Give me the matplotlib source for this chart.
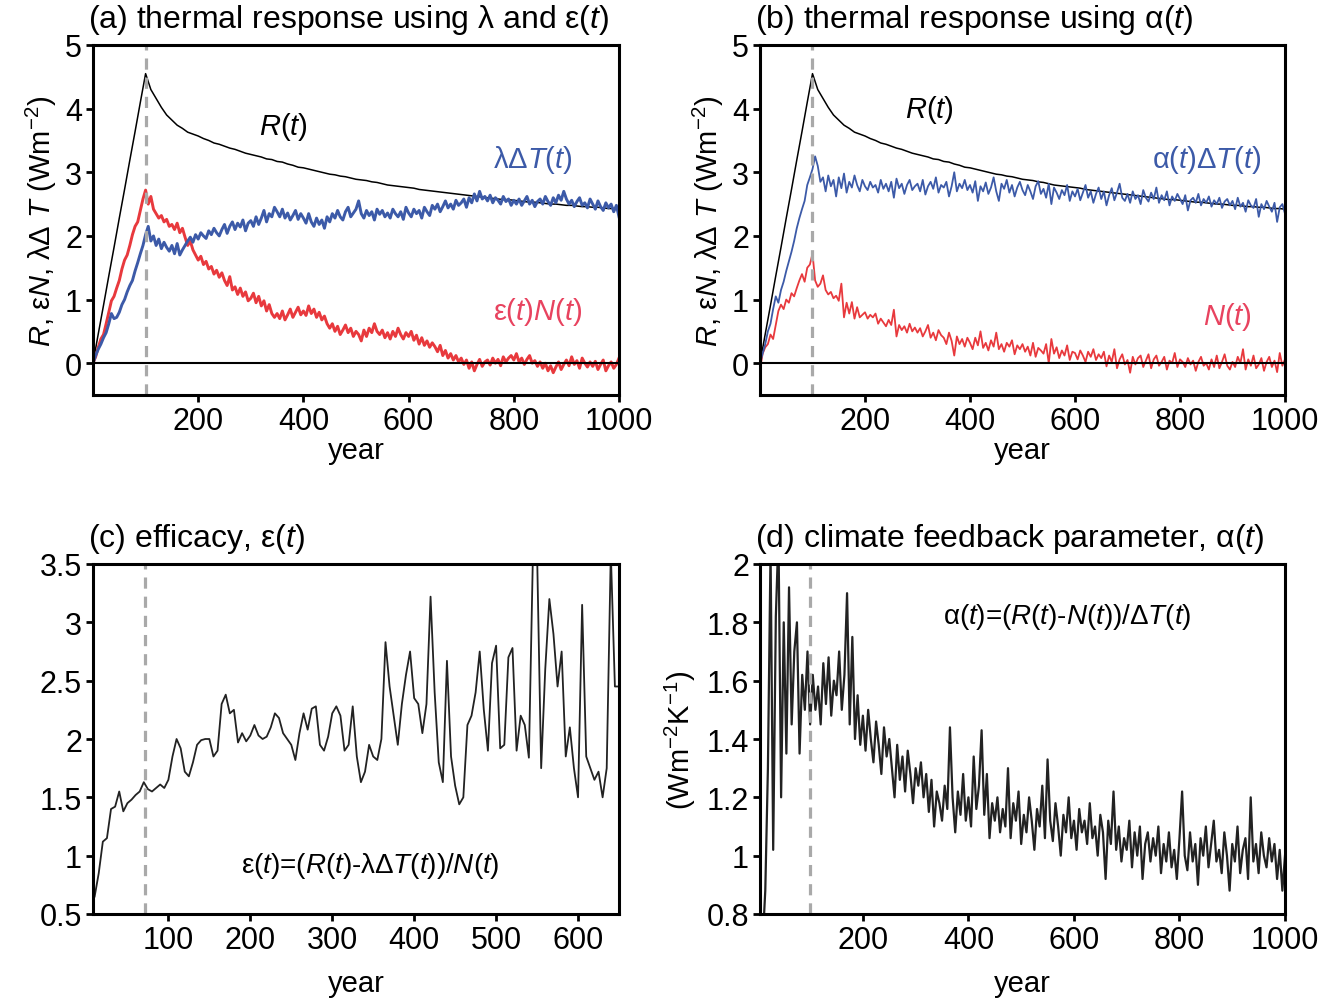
import numpy as np
import matplotlib
matplotlib.use("Agg")
import matplotlib.pyplot as plt
from matplotlib import font_manager

# ---- data ----
years5 = np.arange(0, 1001, 5)
years10 = np.arange(0, 1001, 10)

# R(t), same forcing in (a) and (b), every 10 years
forcing = [
    0.00, 0.46, 0.91, 1.37, 1.82, 2.28, 2.73, 3.19, 3.64, 4.10,
    4.55, 4.30, 4.16, 4.02, 3.90, 3.82, 3.74, 3.69, 3.63, 3.60,
    3.57, 3.53, 3.50, 3.46, 3.44, 3.41, 3.38, 3.36, 3.33, 3.30,
    3.28, 3.26, 3.24, 3.21, 3.20, 3.17, 3.16, 3.13, 3.11, 3.08,
    3.07, 3.05, 3.03, 3.01, 2.99, 2.97, 2.96, 2.94, 2.93, 2.91,
    2.89, 2.88, 2.87, 2.85, 2.84, 2.82, 2.80, 2.79, 2.78, 2.77,
    2.76, 2.75, 2.73, 2.72, 2.71, 2.70, 2.69, 2.68, 2.67, 2.66,
    2.65, 2.64, 2.63, 2.62, 2.61, 2.60, 2.59, 2.58, 2.57, 2.57,
    2.56, 2.55, 2.54, 2.53, 2.53, 2.52, 2.51, 2.50, 2.50, 2.49,
    2.48, 2.48, 2.47, 2.46, 2.46, 2.45, 2.45, 2.44, 2.43, 2.43,
    2.42,
]

# (a) lambda*dT(t), every 5 years
lam_dT = [
    0.00, 0.12, 0.22, 0.30, 0.40, 0.48, 0.62, 0.78, 0.70, 0.72,
    0.80, 0.92, 1.00, 1.12, 1.22, 1.30, 1.45, 1.58, 1.72, 1.85,
    2.02, 2.15, 1.92, 2.00, 1.85, 1.95, 1.80, 1.90, 1.82, 1.76,
    1.85, 1.72, 1.88, 1.70, 1.78, 1.85, 1.92, 1.98, 1.90, 2.02,
    1.95, 2.05, 2.00, 1.96, 2.08, 2.02, 2.12, 2.05, 2.00, 2.10,
    2.18, 2.04, 2.15, 2.22, 2.10, 2.20, 2.14, 2.25, 2.08, 2.20,
    2.24, 2.15, 2.30, 2.18, 2.28, 2.40, 2.22, 2.35, 2.30, 2.45,
    2.38, 2.30, 2.42, 2.28, 2.36, 2.25, 2.32, 2.40, 2.26, 2.35,
    2.28, 2.20, 2.35, 2.22, 2.15, 2.28, 2.18, 2.25, 2.12, 2.30,
    2.22, 2.35, 2.28, 2.40, 2.30, 2.25, 2.38, 2.45, 2.30, 2.36,
    2.42, 2.55, 2.35, 2.28, 2.40, 2.32, 2.38, 2.25, 2.42, 2.34,
    2.40, 2.30, 2.36, 2.28, 2.42, 2.35, 2.30, 2.38, 2.26, 2.45,
    2.36, 2.30, 2.42, 2.35, 2.40, 2.28, 2.45, 2.38, 2.32, 2.48,
    2.42, 2.50, 2.38, 2.46, 2.55, 2.44, 2.50, 2.42, 2.56, 2.48,
    2.52, 2.58, 2.45, 2.60, 2.52, 2.66, 2.55, 2.70, 2.58, 2.62,
    2.55, 2.64, 2.52, 2.60, 2.56, 2.50, 2.62, 2.54, 2.58, 2.48,
    2.56, 2.50, 2.58, 2.48, 2.55, 2.62, 2.50, 2.56, 2.46, 2.54,
    2.58, 2.50, 2.62, 2.54, 2.48, 2.60, 2.52, 2.64, 2.56, 2.70,
    2.58, 2.50, 2.56, 2.46, 2.54, 2.60, 2.48, 2.52, 2.44, 2.58,
    2.50, 2.42, 2.55, 2.46, 2.40, 2.52, 2.44, 2.50, 2.38, 2.48,
    2.30,
]

# (a) eps(t)*N(t), every 5 years
eps_N = [
    0.00, 0.10, 0.25, 0.38, 0.45, 0.62, 0.80, 0.98, 1.05, 1.18,
    1.30, 1.48, 1.62, 1.70, 1.85, 2.02, 2.15, 2.22, 2.40, 2.58,
    2.72, 2.50, 2.62, 2.42, 2.35, 2.28, 2.32, 2.22, 2.26, 2.15,
    2.18, 2.10, 2.20, 2.05, 2.12, 1.98, 1.85, 1.92, 1.78, 1.70,
    1.62, 1.68, 1.55, 1.60, 1.48, 1.52, 1.40, 1.46, 1.35, 1.42,
    1.30, 1.22, 1.36, 1.15, 1.20, 1.08, 1.18, 1.05, 1.12, 0.98,
    1.02, 1.10, 0.95, 1.05, 0.90, 0.98, 0.82, 0.92, 0.78, 0.72,
    0.78, 0.70, 0.82, 0.68, 0.76, 0.85, 0.72, 0.80, 0.88, 0.76,
    0.82, 0.75, 0.90, 0.78, 0.85, 0.72, 0.80, 0.68, 0.74, 0.62,
    0.55, 0.62, 0.50, 0.58, 0.45, 0.52, 0.60, 0.48, 0.55, 0.42,
    0.50, 0.45, 0.35, 0.52, 0.42, 0.55, 0.48, 0.62, 0.50, 0.45,
    0.52, 0.40, 0.48, 0.38, 0.50, 0.42, 0.55, 0.45, 0.38, 0.48,
    0.42, 0.50, 0.36, 0.44, 0.30, 0.40, 0.28, 0.35, 0.25, 0.32,
    0.26, 0.18, 0.28, 0.12, 0.20, 0.08, 0.15, 0.05, 0.12, 0.02,
    0.08, -0.02, 0.05, -0.08, 0.02, -0.12, -0.02, 0.06, -0.05, 0.02,
    0.05, -0.03, 0.08, 0.00, 0.06, -0.04, 0.10, 0.02, 0.08, 0.12,
    0.05, 0.15, 0.02, 0.08, -0.02, 0.06, 0.12, 0.00, 0.04, -0.05,
    0.02, -0.08, 0.00, -0.12, -0.04, -0.15, -0.06, 0.02, -0.10, -0.02,
    0.05, -0.04, 0.10, -0.02, 0.04, -0.08, 0.08, 0.00, -0.06, 0.02,
    -0.05, 0.03, -0.10, -0.02, 0.05, -0.12, -0.04, 0.02, -0.08, -0.02,
    0.08,
]

# (b) alpha(t)*dT(t), every 5 years
alpha_dT = [
    0.00, 0.15, 0.30, 0.50, 0.62, 0.85, 1.05, 0.95, 1.15, 1.28,
    1.45, 1.60, 1.75, 1.92, 2.12, 2.28, 2.42, 2.55, 2.80, 2.92,
    3.05, 3.25, 3.10, 2.85, 2.92, 2.70, 2.95, 2.78, 2.88, 2.62,
    2.92, 2.75, 2.98, 2.68, 2.85, 2.76, 2.95, 2.80, 2.70, 2.88,
    2.78, 2.72, 2.85, 2.76, 2.80, 2.68, 2.88, 2.74, 2.82, 2.70,
    2.85, 2.60, 2.90, 2.75, 2.82, 2.66, 2.80, 2.88, 2.72, 2.78,
    2.82, 2.70, 2.88, 2.65, 2.78, 2.85, 2.74, 2.92, 2.68, 2.80,
    2.76, 2.85, 2.62, 2.78, 3.00, 2.70, 2.82, 2.75, 2.88, 2.72,
    2.80, 2.68, 2.86, 2.55, 2.78, 2.70, 2.84, 2.66, 2.76, 2.92,
    2.70, 2.55, 2.82, 2.74, 2.88, 2.68, 2.80, 2.62, 2.76, 2.85,
    2.72, 2.64, 2.80, 2.70, 2.58, 2.78, 2.86, 2.66, 2.74, 2.60,
    2.82, 2.50, 2.76, 2.68, 2.58, 2.72, 2.64, 2.80, 2.55, 2.70,
    2.62, 2.74, 2.56, 2.68, 2.80, 2.60, 2.70, 2.52, 2.66, 2.76,
    2.58, 2.70, 2.48, 2.64, 2.75, 2.56, 2.68, 2.82, 2.60, 2.55,
    2.66, 2.52, 2.70, 2.58, 2.64, 2.50, 2.72, 2.60, 2.54, 2.68,
    2.58, 2.76, 2.52, 2.64, 2.56, 2.70, 2.48, 2.62, 2.55, 2.66,
    2.58, 2.50, 2.64, 2.40, 2.56, 2.60, 2.52, 2.66, 2.48, 2.58,
    2.52, 2.62, 2.46, 2.56, 2.50, 2.60, 2.44, 2.54, 2.58, 2.48,
    2.55, 2.42, 2.60, 2.46, 2.52, 2.38, 2.56, 2.48, 2.44, 2.58,
    2.30, 2.50, 2.42, 2.55, 2.46, 2.38, 2.52, 2.22, 2.45, 2.50,
    2.35,
]

# (b) N(t), every 5 years
net_N = [
    -0.10, 0.15, 0.25, 0.30, 0.45, 0.38, 0.60, 0.82, 0.92, 0.85,
    1.00, 0.95, 1.10, 1.05, 1.18, 1.30, 1.40, 1.28, 1.50, 1.55,
    1.72, 1.30, 1.20, 1.25, 1.38, 1.15, 1.08, 1.12, 1.02, 1.06,
    0.98, 1.25, 0.72, 0.95, 0.78, 0.96, 0.70, 0.88, 0.72, 0.76,
    0.80, 0.70, 0.76, 0.72, 0.78, 0.62, 0.70, 0.64, 0.58, 0.68,
    0.60, 0.84, 0.42, 0.60, 0.52, 0.58, 0.48, 0.62, 0.50, 0.56,
    0.48, 0.55, 0.42, 0.50, 0.60, 0.40, 0.48, 0.36, 0.52, 0.44,
    0.40, 0.30, 0.48, 0.35, 0.12, 0.42, 0.30, 0.38, 0.26, 0.40,
    0.32, 0.22, 0.40, 0.28, 0.50, 0.24, 0.32, 0.20, 0.36, 0.26,
    0.48, 0.22, 0.30, 0.18, 0.32, 0.26, 0.36, 0.14, 0.28, 0.22,
    0.30, 0.18, 0.26, 0.12, 0.32, 0.10, 0.24, 0.20, 0.15, 0.30,
    0.00, 0.38, 0.15, 0.25, 0.08, 0.20, 0.12, 0.28, 0.05, 0.18,
    0.16, 0.06, 0.20, 0.12, 0.02, 0.18, 0.10, 0.22, 0.05, 0.14,
    0.08, 0.18, -0.05, 0.12, 0.02, 0.22, -0.08, 0.06, 0.14, -0.02,
    0.05, -0.15, 0.10, -0.02, 0.08, 0.12, -0.06, 0.04, 0.14, -0.08,
    0.06, 0.12, -0.04, 0.02, 0.10, -0.10, 0.04, 0.00, 0.16, -0.06,
    0.06, 0.02, -0.06, 0.08, -0.02, 0.04, -0.12, 0.02, 0.10, -0.04,
    0.00, -0.10, 0.06, -0.06, 0.12, -0.08, 0.02, 0.14, -0.04, -0.10,
    0.02, -0.06, 0.10, 0.00, 0.22, -0.10, 0.06, -0.04, 0.12, -0.08,
    -0.02, 0.08, -0.12, 0.02, 0.10, -0.06, 0.04, -0.14, 0.16, -0.04,
    0.06,
]

# (c) efficacy, years 10..650 every 5
eff_years = np.arange(10, 651, 5)
efficacy = [
    0.65, 0.85, 1.12, 1.15, 1.40, 1.42, 1.55, 1.38, 1.45, 1.48,
    1.52, 1.55, 1.63, 1.57, 1.55, 1.58, 1.61, 1.58, 1.65, 1.85,
    2.00, 1.92, 1.72, 1.68, 1.80, 1.95, 1.99, 2.00, 2.00, 1.85,
    1.90, 2.30, 2.38, 2.22, 2.25, 1.97, 2.05, 1.98, 2.03, 2.12,
    2.03, 2.00, 2.02, 2.10, 2.22, 2.18, 2.05, 2.00, 1.95, 1.82,
    2.05, 2.22, 2.08, 2.26, 2.28, 1.95, 1.90, 2.02, 2.22, 2.28,
    2.20, 1.90, 1.95, 2.28, 1.85, 1.63, 1.72, 1.95, 1.85, 1.82,
    2.00, 2.83, 2.45, 2.20, 1.95, 2.30, 2.55, 2.75, 2.35, 2.30,
    2.05, 2.30, 3.22, 2.40, 1.80, 1.63, 2.67, 1.85, 1.60, 1.44,
    1.50, 2.12, 2.20, 2.40, 2.75, 2.25, 1.90, 2.65, 2.80, 1.92,
    1.95, 2.70, 2.78, 1.90, 2.20, 2.12, 1.84, 3.60, 3.60, 1.75,
    2.60, 3.20, 2.90, 2.45, 2.75, 1.85, 2.10, 1.75, 1.50, 3.15,
    1.85, 1.75, 1.65, 1.72, 1.50, 1.75, 3.60, 2.45, 2.45,
]

# (d) climate feedback parameter, years 5..1000 every 5
alpha_years = np.arange(5, 1001, 5)
alpha = [
    0.60, 0.70, 0.88, 1.30, 2.05, 1.02, 1.82, 2.10, 1.20, 1.80,
    1.35, 1.92, 1.45, 1.70, 1.80, 1.35, 1.62, 1.50, 1.70, 1.45,
    1.62, 1.50, 1.58, 1.45, 1.66, 1.52, 1.68, 1.48, 1.60, 1.55,
    1.70, 1.50, 1.62, 1.90, 1.45, 1.75, 1.40, 1.55, 1.38, 1.48,
    1.36, 1.50, 1.40, 1.32, 1.46, 1.38, 1.28, 1.44, 1.34, 1.40,
    1.30, 1.20, 1.38, 1.26, 1.34, 1.22, 1.36, 1.28, 1.18, 1.30,
    1.24, 1.32, 1.20, 1.28, 1.15, 1.26, 1.10, 1.22, 1.18, 1.12,
    1.24, 1.16, 1.44, 1.20, 1.08, 1.22, 1.14, 1.28, 1.12, 1.20,
    1.10, 1.34, 1.16, 1.24, 1.43, 1.14, 1.28, 1.06, 1.18, 1.12,
    1.20, 1.08, 1.16, 1.10, 1.30, 1.06, 1.18, 1.12, 1.22, 1.04,
    1.14, 1.08, 1.20, 1.12, 1.02, 1.16, 1.10, 1.24, 1.06, 1.33,
    1.12, 1.05, 1.18, 1.10, 1.00, 1.14, 1.08, 1.20, 1.06, 1.12,
    1.02, 1.16, 1.08, 1.12, 1.04, 1.18, 1.06, 1.10, 1.00, 1.14,
    1.08, 0.92, 1.12, 1.04, 1.22, 1.02, 1.10, 0.98, 1.06, 1.02,
    1.12, 0.96, 1.08, 1.00, 1.10, 0.92, 1.04, 1.08, 0.98, 1.06,
    1.00, 1.10, 0.94, 1.04, 0.98, 1.08, 0.96, 1.02, 0.92, 1.06,
    1.22, 1.00, 0.95, 1.08, 0.98, 1.04, 0.90, 1.06, 1.00, 1.10,
    0.96, 1.04, 1.12, 0.98, 1.02, 0.94, 1.08, 1.00, 0.88, 1.04,
    0.98, 1.10, 0.94, 1.02, 1.06, 0.92, 1.20, 0.98, 1.04, 0.94,
    1.08, 1.00, 0.96, 1.06, 0.98, 1.04, 0.92, 1.02, 0.88, 1.00,
]

# ---- style ----
names = {f.name for f in font_manager.fontManager.ttflist}
tick_font = "Liberation Sans Narrow" if "Liberation Sans Narrow" in names else "Liberation Sans"
plt.rcParams["font.family"] = ["Liberation Sans", "DejaVu Sans"]
plt.rcParams["mathtext.fontset"] = "custom"
plt.rcParams["mathtext.rm"] = "Liberation Sans"
plt.rcParams["mathtext.it"] = "Liberation Sans:italic"
plt.rcParams["mathtext.sf"] = "Liberation Sans"

BLUE = "#3c5aa8"
RED = "#e8393d"
PINK = "#e8435f"
GREY = "#a9a9a9"

fig = plt.figure(figsize=(13.37, 10.03), dpi=100)
W, H = 1337, 1003


def make_ax(left, top, right, bottom):
    return fig.add_axes([left / W, 1 - bottom / H, (right - left) / W, (bottom - top) / H])


ax_a = make_ax(93, 46, 619, 396)
ax_b = make_ax(760, 46, 1285, 396)
ax_c = make_ax(93, 565, 619, 915)
ax_d = make_ax(760, 565, 1285, 915)


def style(ax, xticks, yticks, ylabels):
    for s in ax.spines.values():
        s.set_linewidth(2.2)
    ax.set_xticks(xticks)
    ax.set_yticks(yticks)
    ax.set_yticklabels(ylabels)
    ax.tick_params(direction="out", length=5, width=2, pad=3, labelsize=22)
    for lab in ax.get_xticklabels() + ax.get_yticklabels():
        lab.set_fontfamily(tick_font)


# (a)
ax_a.plot(years10, forcing, color="black", lw=1.1)
ax_a.plot(years5, eps_N, color=RED, lw=2.1)
ax_a.plot(years5, lam_dT, color=BLUE, lw=2.1)
# (b)
ax_b.plot(years10, forcing, color="black", lw=1.1)
ax_b.plot(years5, net_N, color=RED, lw=1.3)
ax_b.plot(years5, alpha_dT, color=BLUE, lw=1.3)

for ax in (ax_a, ax_b):
    ax.axhline(0, color="black", lw=1.5)
    ax.axvline(100, color=GREY, lw=2.3, ls=(0, (3.5, 2.5)))
    ax.set_xlim(0, 1000)
    ax.set_ylim(-0.5, 5)
    style(ax, [200, 400, 600, 800, 1000], range(6), [str(v) for v in range(6)])
    ax.set_xlabel("year", fontsize=21, labelpad=0)
    ax.set_ylabel(r"$R$, ε$N$, λΔ $T$ (Wm$^{-2}$)", fontsize=21, labelpad=4)

ax_a.text(362, 3.73, r"$\mathit{R(t)}$", fontsize=21, ha="center", va="center")
ax_a.text(836, 3.21, r"λΔ$\mathit{T(t)}$", fontsize=21, ha="center", va="center", color=BLUE)
ax_a.text(845, 0.82, r"ε$\mathit{(t)N(t)}$", fontsize=21, ha="center", va="center", color=PINK)
ax_b.text(322, 4.0, r"$\mathit{R(t)}$", fontsize=21, ha="center", va="center")
ax_b.text(850, 3.21, r"α$\mathit{(t)}$Δ$\mathit{T(t)}$", fontsize=21, ha="center", va="center", color=BLUE)
ax_b.text(890, 0.74, r"$\mathit{N(t)}$", fontsize=21, ha="center", va="center", color=PINK)

# (c)
ax_c.plot(eff_years, efficacy, color="#222222", lw=1.3)
ax_c.axvline(72, color=GREY, lw=2.3, ls=(0, (3.5, 2.5)))
ax_c.set_xlim(8, 650)
ax_c.set_ylim(0.5, 3.5)
style(ax_c, [100, 200, 300, 400, 500, 600], [0.5, 1, 1.5, 2, 2.5, 3, 3.5],
      ["0.5", "1", "1.5", "2", "2.5", "3", "3.5"])
ax_c.set_xlabel("year", fontsize=21, labelpad=10)
ax_c.text(346, 0.92, r"ε($t$)=($\mathit{R(t)}$-λΔ$\mathit{T(t))/N(t)}$", fontsize=20,
          ha="center", va="center")

# (d)
ax_d.plot(alpha_years, alpha, color="#222222", lw=1.6)
ax_d.axvline(100, color=GREY, lw=2.3, ls=(0, (3.5, 2.5)))
ax_d.set_xlim(5, 1000)
ax_d.set_ylim(0.8, 2.0)
style(ax_d, [200, 400, 600, 800, 1000], [0.8, 1.0, 1.2, 1.4, 1.6, 1.8, 2.0],
      ["0.8", "1", "1.2", "1.4", "1.6", "1.8", "2"])
ax_d.set_xlabel("year", fontsize=21, labelpad=10)
ax_d.set_ylabel(r"(Wm$^{-2}$K$^{-1}$)", fontsize=21, labelpad=6)
ax_d.text(588, 1.82, r"α($t$)=($\mathit{R(t)}$-$\mathit{N(t))/}$Δ$\mathit{T(t)}$", fontsize=20,
          ha="center", va="center")

titles = [
    (ax_a, r"(a) thermal response using λ and ε$\mathit{(t)}$"),
    (ax_b, r"(b) thermal response using α$\mathit{(t)}$"),
    (ax_c, r"(c) efficacy, ε$\mathit{(t)}$"),
    (ax_d, r"(d) climate feedback parameter, α($t$)"),
]
for ax, t in titles:
    ax.text(-0.01, 1.025, t, transform=ax.transAxes, ha="left", va="bottom", fontsize=23)

fig.savefig("out.png", dpi=100)
